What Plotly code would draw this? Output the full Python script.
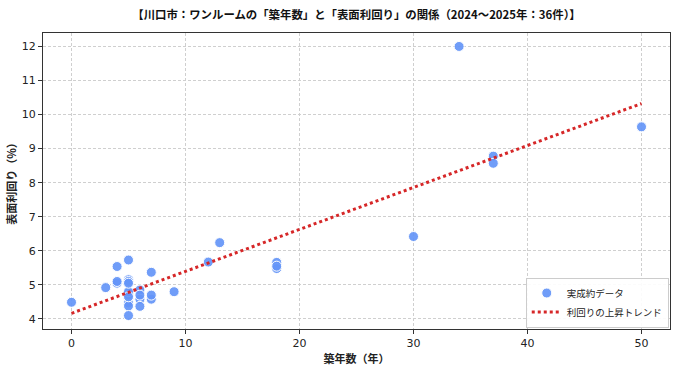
import numpy as np
import plotly.graph_objects as go

# Data (36 deals; some overlap)
age_years = [0, 3, 4, 4, 4,
             5, 5, 5, 5, 5, 5, 5, 5, 5, 5, 5, 5, 5,
             6, 6, 6, 6, 7, 7, 7, 9, 12, 13, 18, 18, 18,
             30, 34, 37, 37, 50]
yield_pct = [4.49, 4.92, 5.54, 5.05, 5.10,
             5.73, 5.15, 5.10, 4.77, 4.63, 4.47, 4.38, 4.10, 4.75, 4.70, 4.80, 5.05, 4.65,
             4.85, 4.58, 4.37, 4.70, 5.37, 4.58, 4.70, 4.80, 5.67, 6.24, 5.66, 5.48, 5.55,
             6.42, 12.00, 8.78, 8.57, 9.64]

title = "【川口市：ワンルームの「築年数」と「表面利回り」の関係（2024～2025年：36件）】"
x_title = "築年数（年）"
y_title = "表面利回り（%）"
name_points = "実成約データ"
name_trend = "利回りの上昇トレンド"

slope, intercept = np.polyfit(age_years, yield_pct, 1)
trend_x = np.linspace(min(age_years), max(age_years), 100)
trend_y = slope * trend_x + intercept

FONT = "Noto Sans CJK JP"

fig = go.Figure()
fig.add_trace(go.Scatter(
    x=age_years, y=yield_pct, mode="markers", name=name_points,
    marker=dict(size=10, color="rgba(100,149,247,0.92)",
                line=dict(color="white", width=1)),
))
fig.add_trace(go.Scatter(
    x=trend_x, y=trend_y, mode="lines", name=name_trend,
    line=dict(color="#d62728", width=3, dash="dot"),
))

axis_common = dict(
    showline=True, linecolor="#333", linewidth=1, mirror=True,
    ticks="outside", ticklen=4, tickcolor="#333",
    showgrid=True, gridcolor="#cfcfcf", griddash="3px,2px", gridwidth=1,
    zeroline=False, tickfont=dict(size=11, color="#222", family="DejaVu Sans"),
)

fig.update_layout(
    width=682, height=375,
    margin=dict(l=43, r=11, t=33, b=42),
    paper_bgcolor="white", plot_bgcolor="white",
    font=dict(family=FONT, color="#222"),
    title=dict(text="<b>" + title + "</b>", x=0.5, xref="paper", xanchor="center",
               y=0.96, yanchor="middle", font=dict(size=11.4, color="#111")),
    xaxis=dict(range=[-2.5, 52.5], dtick=10,
               title=dict(text="<b>" + x_title + "</b>", font=dict(size=11), standoff=6),
               **axis_common),
    yaxis=dict(range=[3.705, 12.395], dtick=1,
               title=dict(text="<b>" + y_title + "</b>", font=dict(size=11), standoff=2),
               **axis_common),
    legend=dict(x=0.998, y=0.005, xanchor="right", yanchor="bottom",
                bgcolor="rgba(255,255,255,0.9)", bordercolor="#cccccc", borderwidth=1,
                font=dict(size=9.5), itemwidth=30, tracegroupgap=0),
    showlegend=True,
)

fig.write_html("out.html")
